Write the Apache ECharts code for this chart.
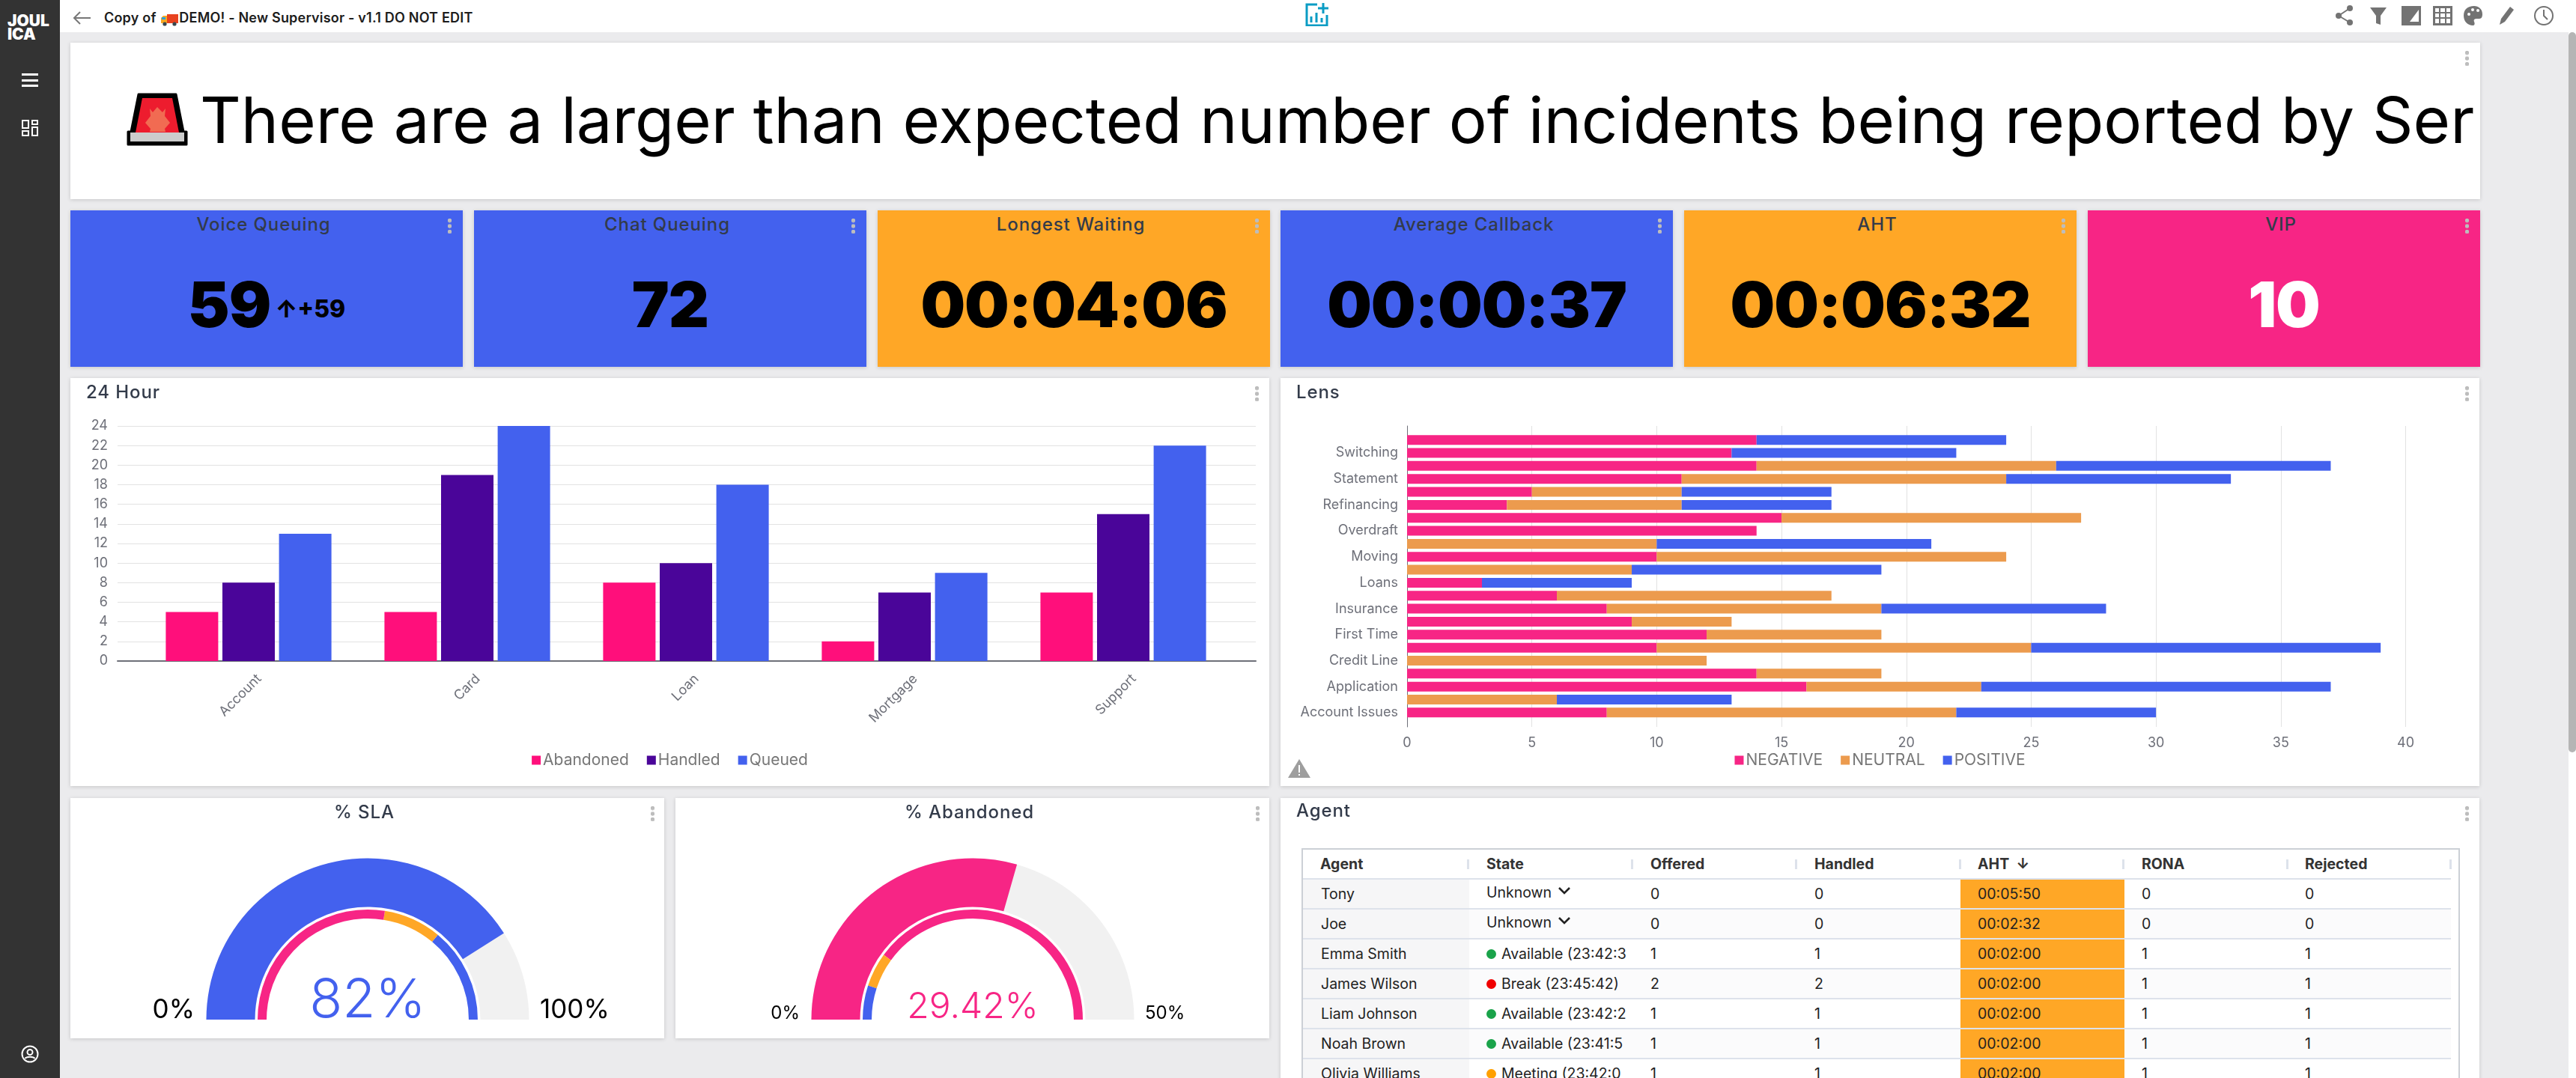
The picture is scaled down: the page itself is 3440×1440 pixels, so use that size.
<!DOCTYPE html>
<html>
<head>
<meta charset="utf-8">
<title>Supervisor dashboard</title>
<script src="https://cdn.jsdelivr.net/npm/echarts@6/dist/echarts.min.js"></script>
<style>
  * { box-sizing: border-box; }
  html, body { margin: 0; width: 3440px; height: 1440px; overflow: hidden; background: #ebebed; font-family: Inter, "Noto Sans", sans-serif; }
  .abs { position: absolute; }
  #sidebar { left: 0; top: 0; width: 80px; height: 1440px; background: #333; color: #fff; }
  #logo { left: 10px; top: 19px; font-weight: 900; font-size: 21px; line-height: 18px; letter-spacing: 0; }
  #topbar { left: 80px; top: 0; width: 3360px; height: 43px; background: #fff; }
  #pagetitle { left: 139px; top: 12px; font-size: 18px; line-height: 24px; font-weight: 600; color: #1c1c1c; white-space: nowrap; letter-spacing: .2px; }
  #pagetitle svg { vertical-align: -5px; margin: 0 1px 0 2px; }
  #scroll-track { left: 3430px; top: 43px; width: 10px; height: 1397px; background: #fff; }
  #scroll-thumb { left: 3430px; top: 43px; width: 10px; height: 962px; background: #b5b5b5; border-radius: 5px; }
  .card { position: absolute; background: #fff; box-shadow: 0 1px 5px rgba(0,0,0,.16); }
  .dots { position: absolute; width: 5px; height: 20px; background: radial-gradient(circle at 2.5px 2.5px, #bdbdbd 2.5px, transparent 3px) 0 0 / 5px 7.5px repeat-y; }
  .card-title { position: absolute; left: 21px; top: 5px; font-size: 24px; line-height: 28px; font-weight: 500; color: #333b4a; letter-spacing: .9px; white-space: nowrap; }
  .card-title.center { left: 0; right: 8px; text-align: center; }
  .kpi-value { position: absolute; left: 0; right: 0; top: 76px; line-height: 100px; text-align: center; font-size: 84px; font-weight: 900; color: #000; white-space: nowrap; letter-spacing: -1px; }
  .kpi-delta { font-size: 32px; font-weight: 800; vertical-align: 13px; margin-left: 6px; letter-spacing: 0; }
  #banner-text { left: 267px; top: 105px; font-size: 85px; line-height: 112px; color: #000; white-space: nowrap; }
  .chart { position: absolute; left: 0; top: 0; }
  #agent-table { left: 1738px; top: 1133px; width: 1547px; height: 320px; border: 2px solid #ccd0d6; border-bottom: 0; background: #fff; overflow: hidden; }
  .row { position: absolute; left: 0; width: 1533px; height: 40px; border-bottom: 2px solid #dde2eb; font-size: 19.5px; line-height: 38px; color: #222; }
  .cell { position: absolute; top: 0; height: 38px; padding-left: 23px; width: 219px; overflow: hidden; white-space: nowrap; }
  .cell.agent { background: #f6f6f7; padding-left: 24px; width: 222px; }
  .cell.aht { background: #ffa726; }
  .head { font-weight: 700; color: #333; }
  .sep { position: absolute; top: 13px; width: 3px; height: 13px; background: #dde2eb; }
  .dot { display: inline-block; width: 13px; height: 13px; border-radius: 50%; margin-right: 7px; }
  .state-unknown { position: relative; top: -2px; }
</style>
</head>
<body>
<div id="sidebar" class="abs">
  <div id="logo" class="abs">JOUL<br>ICA</div>
  <svg class="abs" style="left:29px;top:97px" width="22" height="20"><path d="M0 1h22v3H0zM0 9h22v3H0zM0 16h22v3H0z" fill="#fff"/></svg>
  <svg class="abs" style="left:29px;top:160px" width="22" height="22" fill="none" stroke="#fff" stroke-width="2"><rect x="1" y="1" width="8" height="10"/><rect x="14" y="1" width="7" height="5"/><rect x="1" y="15" width="8" height="6"/><rect x="14" y="10" width="7" height="11"/></svg>
  <svg class="abs" style="left:28px;top:1396px" width="24" height="24" fill="none" stroke="#fff" stroke-width="2"><circle cx="12" cy="12" r="10.5"/><circle cx="12" cy="9.5" r="3.5"/><path d="M5.5 18c2-3 11-3 13 0"/></svg>
</div>
<div id="topbar" class="abs"></div>
<svg class="abs" style="left:97px;top:14px" width="24" height="20" fill="none" stroke="#777" stroke-width="2"><path d="M24 10H2M10 2L2 10l8 8"/></svg>
<div id="pagetitle" class="abs">Copy of <svg width="23" height="16" viewBox="0 0 23 16"><rect x="8" y="0" width="15" height="12" fill="#e8421f"/><path d="M0 5l3-3h5v10H0z" fill="#f7a823"/><rect x="1" y="4" width="5" height="3" fill="#2d9fd9"/><circle cx="5" cy="13" r="2.6" fill="#37474f"/><circle cx="18" cy="13" r="2.6" fill="#37474f"/></svg>DEMO! - New Supervisor - v1.1 DO NOT EDIT</div>
<svg class="abs" style="left:1742px;top:3px" width="33" height="32" fill="none" stroke="#0a9cc4" stroke-width="3"><path d="M17 3H3v28h27V17"/><path d="M9 19v8M16 14v13M23 21v6M25 1v14M18 8h14"/></svg>
<svg class="abs" style="left:3118px;top:7px" width="294" height="27" fill="#737373">
  <g><circle cx="5" cy="14" r="4"/><circle cx="20" cy="4" r="4"/><circle cx="20" cy="23" r="4"/><path d="M5 14L20 4M5 14l15 9" stroke="#737373" stroke-width="2"/></g>
  <path d="M47 3h22l-8 11v12l-6-2V14z"/>
  <path d="M89 1h26v26H89zM92 22h20V6L100 22z" fill-rule="evenodd"/>
  <path d="M131 1h26v26h-26zM134 4v5h5V4zM141 4v5h6V4zM149 4v5h5V4zM134 11v5h5v-5zM141 11v5h6v-5zM149 11v5h5v-5zM134 18v6h5v-6zM141 18v6h6v-6zM149 18v6h5v-6z" fill-rule="evenodd"/>
  <path d="M186 1c-9 0-14 5-14 13s6 13 12 13c3 0 3-3 2-5s0-4 3-4h4c3 0 4-3 4-6 0-7-5-11-11-11z"/>
  <g fill="#fff"><circle cx="179" cy="12" r="2"/><circle cx="184" cy="6" r="2"/><circle cx="191" cy="7" r="2"/></g>
  <path d="M220 26l2-8 12-16 5 4-12 16z"/>
  <g fill="none" stroke="#737373" stroke-width="2"><circle cx="279" cy="14" r="12"/><path d="M279 6v8l5 5"/></g>
</svg>
<div id="scroll-track" class="abs"></div>
<div id="scroll-thumb" class="abs"></div>

<div class="card" style="left:94px;top:57px;width:3218px;height:209px"><div class="dots" style="left:3198px;top:11px"></div></div>
<svg class="abs" style="left:168px;top:123px" width="84" height="72" viewBox="0 0 84 72">
  <path d="M17 3h50l10 50h4v17H3V53h4z" fill="#000" stroke="#000" stroke-width="3" stroke-linejoin="round"/>
  <path d="M22 8h40l9 46H13z" fill="#ed1c2e"/>
  <path d="M42 20l7 7 4-5-1 10 7 9-7 8 1 4H32l1-4-7-8 7-9-1-10 4 5z" fill="#f16b52"/>
  <rect x="6" y="54" width="72" height="12" fill="#ccc"/>
</svg>
<div id="banner-text" class="abs">There are a larger than expected number of incidents being reported by Ser</div>

<div id="kpi-row"></div>

<div class="card" style="left:94px;top:505px;width:1601px;height:545px">
  <div id="chart-hour" class="chart" style="width:1601px;height:545px"></div>
  <div class="card-title">24 Hour</div><div class="dots" style="left:1582px;top:11px"></div>
</div>
<div class="card" style="left:1710px;top:505px;width:1601px;height:545px">
  <div id="chart-lens" class="chart" style="width:1601px;height:545px"></div>
  <div class="card-title">Lens</div><div class="dots" style="left:1582px;top:11px"></div>
  <svg class="abs" style="left:10px;top:509px" width="30" height="25"><path d="M15 0l15 25H0z" fill="#9e9e9e"/><path d="M14 8h2v10h-2zM14 20h2v2h-2z" fill="#fff"/></svg>
</div>
<div class="card" style="left:94px;top:1066px;width:793px;height:321px">
  <div id="chart-sla" class="chart" style="width:793px;height:321px"></div>
  <div class="card-title center">% SLA</div><div class="dots" style="left:775px;top:11px"></div>
</div>
<div class="card" style="left:902px;top:1066px;width:793px;height:321px">
  <div id="chart-abandoned" class="chart" style="width:793px;height:321px"></div>
  <div class="card-title center">% Abandoned</div><div class="dots" style="left:775px;top:11px"></div>
</div>
<div class="card" style="left:1710px;top:1066px;width:1601px;height:400px">
  <div class="card-title" style="top:3px">Agent</div><div class="dots" style="left:1582px;top:11px"></div>
</div>
<div id="agent-table" class="abs"></div>

<script>
// colours
const BLUE = '#4361ee', PINK = '#f72585', ORANGE = '#ffa726', HOT = '#ff0f7b', PURPLE = '#4a0599', TAN = '#ec9b4e', GREY = '#6e7079';

// KPI tiles
const kpiTitles = ['Voice Queuing', 'Chat Queuing', 'Longest Waiting', 'Average Callback', 'AHT', 'VIP'];
const kpiValues = ['59', '72', '00:04:06', '00:00:37', '00:06:32', '10'];
const kpiColors = [BLUE, BLUE, ORANGE, BLUE, ORANGE, PINK];
const kpiDelta = '↑+59';

// 24 Hour
const hourCategories = ['Account', 'Card', 'Loan', 'Mortgage', 'Support'];
const hourAbandoned = [5, 5, 8, 2, 7];
const hourHandled = [8, 19, 10, 7, 15];
const hourQueued = [13, 24, 18, 9, 22];

// Lens, bottom row first, every other label is not shown in the picture
const lensCategories = ['Account Issues', '', 'Application', '', 'Credit Line', '', 'First Time', '', 'Insurance', '', 'Loans', '', 'Moving', '', 'Overdraft', '', 'Refinancing', '', 'Statement', '', 'Switching', ''];
const lensNegative = [8, 0, 16, 14, 0, 10, 12, 9, 8, 6, 3, 0, 10, 0, 14, 15, 4, 5, 11, 14, 13, 14];
const lensNeutral = [14, 6, 7, 5, 12, 15, 7, 4, 11, 11, 0, 9, 14, 10, 0, 12, 7, 6, 13, 12, 0, 0];
const lensPositive = [8, 7, 14, 0, 0, 14, 0, 0, 9, 0, 6, 10, 0, 11, 0, 0, 6, 6, 9, 11, 9, 10];

// gauges
const slaValue = 82, slaMax = 100, slaStops = [55, 72];
const abandonedValue = 29.42, abandonedMax = 50, abandonedStops = [5, 10];

// agent table
const agentColumns = ['Agent', 'State', 'Offered', 'Handled', 'AHT&nbsp; ↓', 'RONA', 'Rejected'];
const agentNames = ['Tony', 'Joe', 'Emma Smith', 'James Wilson', 'Liam Johnson', 'Noah Brown', 'Olivia Williams'];
const agentStates = ['Unknown', 'Unknown', 'Available (23:42:3', 'Break (23:45:42)', 'Available (23:42:2', 'Available (23:41:5', 'Meeting (23:42:0'];
const agentDots = ['', '', '#1aa34a', '#f00000', '#1aa34a', '#1aa34a', '#ffa000'];
const agentOffered = [0, 0, 1, 2, 1, 1, 1];
const agentHandled = [0, 0, 1, 2, 1, 1, 1];
const agentAht = ['00:05:50', '00:02:32', '00:02:00', '00:02:00', '00:02:00', '00:02:00', '00:02:00'];
const agentRona = [0, 0, 1, 1, 1, 1, 1];
const agentRejected = [0, 0, 1, 1, 1, 1, 1];

// tiles
let kpiHtml = '';
kpiTitles.forEach((title, i) => {
  const left = Math.round(94 + i * 538.8);
  const delta = i === 0 ? `<span class="kpi-delta">${kpiDelta}</span>` : '';
  const color = i === 5 ? '#fff' : '#000';
  kpiHtml += `<div class="card" style="left:${left}px;top:281px;width:524px;height:209px;background:${kpiColors[i]}">
    <div class="card-title center">${title}</div><div class="dots" style="left:504px;top:11px"></div>
    <div class="kpi-value" style="color:${color}">${kpiValues[i]}${delta}</div></div>`;
});
document.getElementById('kpi-row').innerHTML = kpiHtml;

// table
const colLeft = [0, 222, 441, 660, 878, 1097, 1315];
let tableHtml = '<div class="row head" style="top:0">';
agentColumns.forEach((c, i) => {
  tableHtml += `<div class="cell" style="left:${colLeft[i]}px">${c}</div><div class="sep" style="left:${colLeft[i] + (i === 0 ? 219 : 216)}px"></div>`;
});
tableHtml += '</div>';
agentNames.forEach((name, r) => {
  const state = agentDots[r]
    ? `<span class="dot" style="background:${agentDots[r]}"></span>${agentStates[r]}`
    : `<span class="state-unknown">${agentStates[r]}</span> <svg width="16" height="10" style="vertical-align:6px;margin-left:3px" fill="none" stroke="#222" stroke-width="2.6"><path d="M1 1l7 7 7-7"/></svg>`;
  const cells = [name, state, agentOffered[r], agentHandled[r], agentAht[r], agentRona[r], agentRejected[r]];
  const bg = r % 2 ? '#fbfbfc' : '#fff';
  tableHtml += `<div class="row" style="top:${40 + r * 40}px;background:${bg}">`;
  cells.forEach((c, i) => {
    const cls = i === 0 ? 'agent' : i === 4 ? 'aht' : '';
    tableHtml += `<div class="cell ${cls}" style="left:${colLeft[i]}px">${c}</div>`;
  });
  tableHtml += '</div>';
});
document.getElementById('agent-table').innerHTML = tableHtml;

const font = 'Inter';
const labelStyle = { color: GREY, fontFamily: font, fontSize: 18 };
const legendStyle = { color: '#777', fontFamily: font, fontSize: 21 };

// 24 Hour. The outer grid carries the y scale and the long base line, bars sit in the inner grid
const hourChart = echarts.init(document.getElementById('chart-hour'));
const hourSeries = (name, data, color) => ({ name, type: 'bar', xAxisIndex: 1, yAxisIndex: 1, data, barWidth: 70, barGap: '8%', itemStyle: { color } });
hourChart.setOption({
  animation: false,
  legend: { top: 495, left: 'center', icon: 'rect', itemWidth: 12, itemHeight: 12, itemGap: 24, textStyle: { ...legendStyle, padding: [0, 0, 0, -2] }, data: ['Abandoned', 'Handled', 'Queued'] },
  grid: [
    { left: 63, top: 64, width: 1520, height: 314 },
    { left: 92, top: 64, width: 1460, height: 314 }
  ],
  xAxis: [
    { type: 'category', gridIndex: 0, data: [''], axisLine: { lineStyle: { color: GREY, width: 2 } }, axisTick: { length: 8, lineStyle: { color: '#333' } }, axisLabel: { show: false } },
    { type: 'category', gridIndex: 1, data: hourCategories, axisLine: { show: false }, axisTick: { alignWithLabel: true, length: 8, lineStyle: { color: '#333' } },
      axisLabel: { ...labelStyle, rotate: 45, interval: 0, margin: 35, padding: [0, -20, 0, 0] } }
  ],
  yAxis: [
    { type: 'value', gridIndex: 0, min: 0, max: 24, interval: 2, axisLine: { show: false }, axisTick: { show: false }, axisLabel: { ...labelStyle, margin: 13 }, splitLine: { lineStyle: { color: '#e2e2e2', width: 1 } } },
    { type: 'value', gridIndex: 1, min: 0, max: 24, interval: 2, show: false }
  ],
  series: [hourSeries('Abandoned', hourAbandoned, HOT), hourSeries('Handled', hourHandled, PURPLE), hourSeries('Queued', hourQueued, BLUE)]
});

// Lens, same two grid setup as above
const lensChart = echarts.init(document.getElementById('chart-lens'));
const lensSeries = (name, data, color) => ({ name, type: 'bar', stack: 'lens', xAxisIndex: 1, yAxisIndex: 1, data, barWidth: 13, itemStyle: { color } });
lensChart.setOption({
  animation: false,
  legend: { top: 495, left: 'center', icon: 'rect', itemWidth: 12, itemHeight: 12, itemGap: 24, textStyle: { ...legendStyle, padding: [0, 0, 0, -2] }, data: ['NEGATIVE', 'NEUTRAL', 'POSITIVE'] },
  grid: [
    { left: 169, top: 64, width: 1333.5, height: 402 },
    { left: 169, top: 74, width: 1333.5, height: 381.5 }
  ],
  xAxis: [
    { type: 'value', gridIndex: 0, min: 0, max: 40, interval: 5, axisLine: { show: false }, axisTick: { show: false }, axisLabel: { ...labelStyle, margin: 13 }, splitLine: { lineStyle: { color: '#e2e2e2' } } },
    { type: 'value', gridIndex: 1, min: 0, max: 40, interval: 5, show: false }
  ],
  yAxis: [
    { type: 'category', gridIndex: 0, data: [''], axisLine: { lineStyle: { color: GREY } }, axisTick: { length: 8, lineStyle: { color: '#333', width: 2 } }, axisLabel: { show: false } },
    { type: 'category', gridIndex: 1, data: lensCategories, axisLine: { show: false }, axisTick: { alignWithLabel: true, length: 8, lineStyle: { color: '#333', width: 2 } }, axisLabel: { ...labelStyle, interval: 0, margin: 12 } }
  ],
  series: [lensSeries('NEGATIVE', lensNegative, PINK), lensSeries('NEUTRAL', lensNeutral, TAN), lensSeries('POSITIVE', lensPositive, BLUE)]
});

// gauges
function gaugeOption(value, max, color, stops, stopColors, detailSize, detailOffset, labelSize) {
  const cx = 397, cy = 296;
  const base = { type: 'gauge', center: [cx, cy], startAngle: 180, endAngle: 0, min: 0, max, splitNumber: 1, pointer: { show: false }, axisTick: { show: false }, splitLine: { show: false }, axisLabel: { show: false }, title: { show: false } };
  const sideLabel = (text, x, textAlign) => ({ type: 'text', x, y: cy - labelSize * 0.36, style: { text, textAlign, textVerticalAlign: 'middle', fill: '#000', font: `${labelSize}px ${font}` } });
  return {
    animation: false,
    graphic: [sideLabel('0%', cx - 231, 'right'), sideLabel(max + '%', cx + 230, 'left')],
    series: [
      { ...base, radius: 215.5, progress: { show: true, width: 65, itemStyle: { color } },
        axisLine: { lineStyle: { width: 65, color: [[1, '#f1f1f1']] } },
        detail: { valueAnimation: false, formatter: v => v + '%', color, fontFamily: font, fontSize: detailSize, fontWeight: 300, offsetCenter: [0, detailOffset] },
        data: [{ value }] },
      { ...base, radius: 147, axisLine: { lineStyle: { width: 12, color: [[stops[0] / max, stopColors[0]], [stops[1] / max, stopColors[1]], [1, stopColors[2]]] } },
        detail: { show: false }, data: [{ value }] }
    ]
  };
}
echarts.init(document.getElementById('chart-sla')).setOption(gaugeOption(slaValue, slaMax, BLUE, slaStops, [PINK, ORANGE, BLUE], 72, -25, 35));
echarts.init(document.getElementById('chart-abandoned')).setOption(gaugeOption(abandonedValue, abandonedMax, PINK, abandonedStops, [BLUE, ORANGE, PINK], 48, -16, 24));
</script>
</body>
</html>
